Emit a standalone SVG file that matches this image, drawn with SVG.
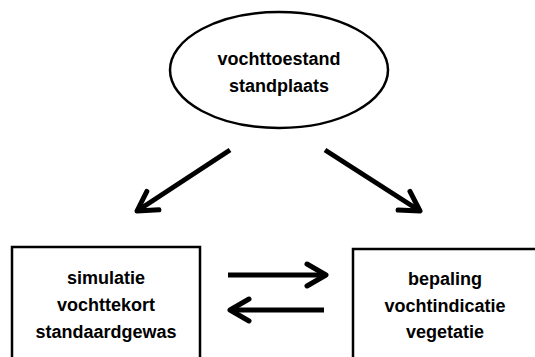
<svg xmlns="http://www.w3.org/2000/svg" width="535" height="357" viewBox="0 0 535 357">
<style>
.t{font-family:"Liberation Sans",Arial,sans-serif;font-size:18px;font-weight:bold;fill:#000;text-anchor:middle}
.n{fill:#fff;stroke:#000;stroke-width:2.5}
.c{stroke:#000;stroke-width:5;fill:none}
</style>
<defs>
<marker id="ah" markerUnits="userSpaceOnUse" viewBox="-25 -15 30 30" markerWidth="30" markerHeight="30" refX="0" refY="0" orient="auto">
<path d="M-19,-11 L0,0 L-19,11" fill="none" stroke="#000" stroke-width="5" stroke-linecap="round" stroke-linejoin="round"/>
</marker>
</defs>
<rect width="535" height="357" fill="#fff"/>
<g id="node-vochttoestand">
<ellipse class="n" cx="279" cy="70" rx="109" ry="58"/>
<text class="t" x="279" y="65">vochttoestand</text>
<text class="t" x="279" y="92">standplaats</text>
</g>
<g id="node-simulatie">
<rect class="n" x="12" y="247" width="188" height="130"/>
<text class="t" x="106" y="284">simulatie</text>
<text class="t" x="106" y="311">vochttekort</text>
<text class="t" x="106" y="338">standaardgewas</text>
</g>
<g id="node-bepaling">
<rect class="n" x="353" y="249" width="200" height="130"/>
<text class="t" x="445" y="285">bepaling</text>
<text class="t" x="445" y="312">vochtindicatie</text>
<text class="t" x="445" y="338">vegetatie</text>
</g>
<g id="connectors">
<line class="c" x1="230" y1="150" x2="137" y2="211" marker-end="url(#ah)"/>
<line class="c" x1="325" y1="150" x2="420" y2="211" marker-end="url(#ah)"/>
<line class="c" x1="228" y1="275" x2="326" y2="275" marker-end="url(#ah)"/>
<line class="c" x1="324" y1="310" x2="230" y2="310" marker-end="url(#ah)"/>
</g>
</svg>
